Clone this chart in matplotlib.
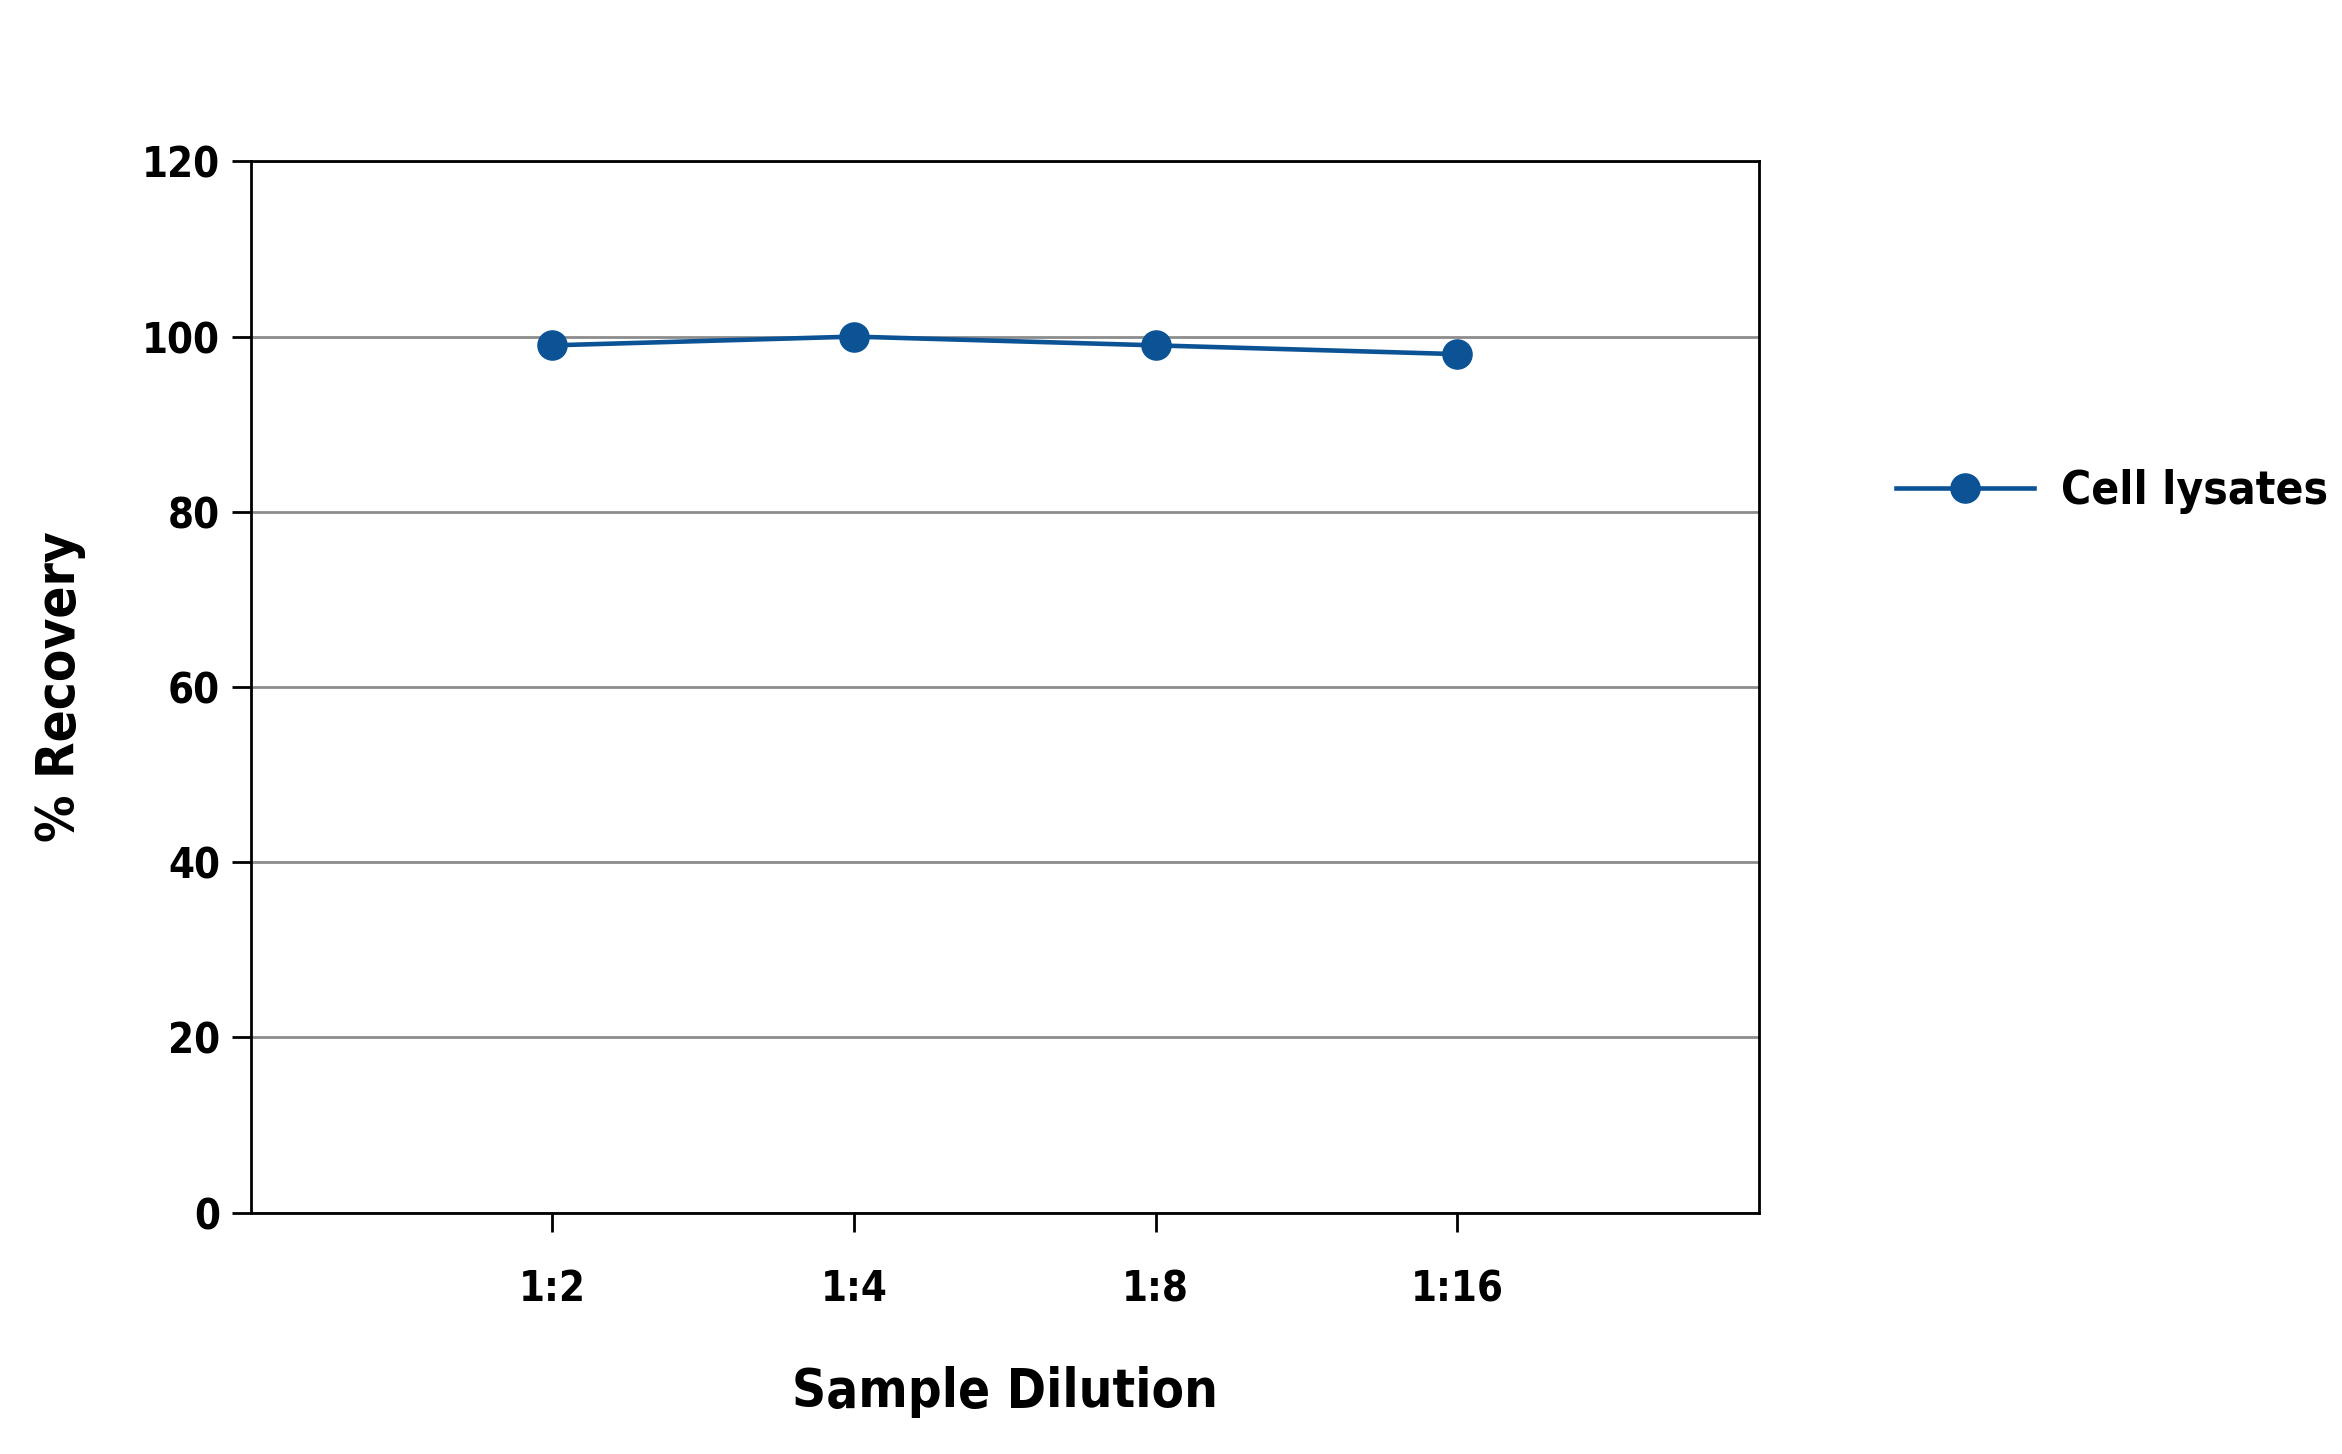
import matplotlib.pyplot as plt

dilutions = ["1:2", "1:4", "1:8", "1:16"]
recovery = [99, 100, 99, 98]
yticks = [0, 20, 40, 60, 80, 100, 120]

plt.rcParams['font.family'] = ['DejaVu Sans']
plt.rcParams['font.stretch'] = 'condensed'
plt.rcParams['font.weight'] = 'bold'

fig = plt.figure(figsize=(23.42, 14.54), dpi=100)
ax = fig.add_axes([0.107, 0.166, 0.644, 0.723])

xs = list(range(1, len(dilutions) + 1))
ax.plot(xs, recovery, '-o', color='#0b5394', lw=3.3, ms=21, label='Cell lysates')

ax.set_xlim(0, len(dilutions) + 1)
ax.set_ylim(0, 120)
ax.set_yticks(yticks)
ax.set_xticks(xs)
ax.set_xticklabels(dilutions)
ax.yaxis.grid(True, color='#8c8c8c', lw=2)
ax.set_axisbelow(True)
for s in ax.spines.values():
    s.set_linewidth(2)
ax.tick_params(axis='both', labelsize=30, width=2, length=14, direction='out')
ax.tick_params(axis='x', pad=26)
ax.tick_params(axis='y', pad=8)

ax.set_xlabel('Sample Dilution', fontsize=38, fontweight='bold', labelpad=40)
ax.set_ylabel('% Recovery', fontsize=38, fontweight='bold', labelpad=40)

fig.legend(loc='center left', bbox_to_anchor=(0.792, 0.662), frameon=False,
           fontsize=33, handlelength=3.0, handletextpad=0.6)

fig.savefig('out.png', dpi=100)
